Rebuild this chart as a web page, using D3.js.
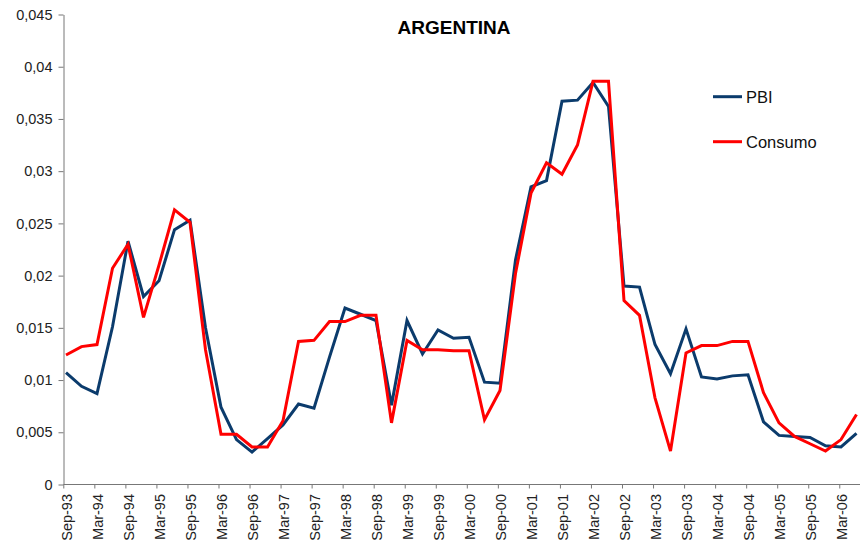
<!DOCTYPE html>
<html>
<head>
<meta charset="utf-8">
<script src="https://cdn.jsdelivr.net/npm/d3@7/dist/d3.min.js"></script>
<style>
  html, body { margin: 0; padding: 0; background: #fff; }
  svg { display: block; font-family: "Liberation Sans", Arial, sans-serif; }
</style>
</head>
<body>
<svg id="chart" width="863" height="543"></svg>
<script>
// Quarterly categories
const quarters = [
  "Sep-93","Dec-93","Mar-94","Jun-94","Sep-94","Dec-94","Mar-95","Jun-95",
  "Sep-95","Dec-95","Mar-96","Jun-96","Sep-96","Dec-96","Mar-97","Jun-97",
  "Sep-97","Dec-97","Mar-98","Jun-98","Sep-98","Dec-98","Mar-99","Jun-99",
  "Sep-99","Dec-99","Mar-00","Jun-00","Sep-00","Dec-00","Mar-01","Jun-01",
  "Sep-01","Dec-01","Mar-02","Jun-02","Sep-02","Dec-02","Mar-03","Jun-03",
  "Sep-03","Dec-03","Mar-04","Jun-04","Sep-04","Dec-04","Mar-05","Jun-05",
  "Sep-05","Dec-05","Mar-06","Jun-06"
];

// Series values
const pbi = [
  0.0107,0.0094,0.0087,0.0151,0.0233,0.0180,0.0195,0.0244,0.0253,0.0150,
  0.0074,0.0043,0.0031,0.0044,0.0057,0.0077,0.0073,0.0122,0.0169,0.0163,
  0.0157,0.0076,0.0157,0.0125,0.0148,0.0140,0.0141,0.0098,0.0097,0.0215,
  0.0285,0.0291,0.0367,0.0368,0.0385,0.0362,0.0190,0.0189,0.0134,0.0106,
  0.0149,0.0103,0.0101,0.0104,0.0105,0.0060,0.0047,0.0046,0.0045,0.0037,
  0.0036,0.0049
];
const consumo = [
  0.0124,0.0132,0.0134,0.0207,0.0230,0.0160,0.0210,0.0263,0.0251,0.0129,
  0.0048,0.0048,0.0036,0.0036,0.0061,0.0137,0.0138,0.0156,0.0156,0.0162,
  0.0162,0.0059,0.0138,0.0129,0.0129,0.0128,0.0128,0.0062,0.0090,0.0202,
  0.0279,0.0308,0.0297,0.0325,0.0386,0.0386,0.0176,0.0162,0.0083,0.0032,
  0.0126,0.0133,0.0133,0.0137,0.0137,0.0088,0.0059,0.0046,0.0039,0.0032,
  0.0043,0.0067
];

// Axis ticks
const yTicks = [0, 0.005, 0.01, 0.015, 0.02, 0.025, 0.03, 0.035, 0.04, 0.045];
const yTickLabels = ["0","0,005","0,01","0,015","0,02","0,025","0,03","0,035","0,04","0,045"];
const xTickLabels = quarters.filter((d, i) => i % 2 === 0);

const seriesNames = ["PBI", "Consumo"];
const seriesColors = ["#0b3b6c", "#ff0000"];

const svg = d3.select("#chart");
const plot = { left: 63.5, right: 860, top: 14.5, bottom: 484.5 };
const axisColor = "#777";

const x = d3.scalePoint().domain(quarters).range([66, 856.5]);
const xTick = d3.scalePoint().domain(quarters).range([63.3, 854.8]);
const y = d3.scaleLinear().domain([0, 0.045]).range([plot.bottom, plot.top]);

// Y axis
const yAxis = svg.append("g")
  .attr("transform", `translate(${plot.left},0)`)
  .call(d3.axisLeft(y).tickValues(yTicks)
    .tickFormat((d, i) => yTickLabels[i]).tickSize(5).tickPadding(6).tickSizeOuter(0));
yAxis.select(".domain").attr("stroke", axisColor);
yAxis.selectAll(".tick line").attr("stroke", axisColor);
yAxis.selectAll(".tick text")
  .attr("fill", "#222").style("font-size", "14.5px");

// X axis: tick marks
const xAxisTicks = svg.append("g")
  .attr("transform", `translate(0,${plot.bottom})`)
  .call(d3.axisBottom(xTick).tickValues(xTickLabels).tickSize(4).tickFormat(""));
xAxisTicks.select(".domain").remove();
xAxisTicks.selectAll(".tick line").attr("stroke", axisColor);
svg.append("line")
  .attr("x1", plot.left).attr("x2", plot.right)
  .attr("y1", y(0)).attr("y2", y(0))
  .attr("stroke", axisColor);

// X axis: rotated labels
const xAxisLabels = svg.append("g")
  .attr("transform", `translate(0,${plot.bottom})`)
  .call(d3.axisBottom(x).tickValues(xTickLabels).tickSize(0));
xAxisLabels.select(".domain").remove();
xAxisLabels.selectAll(".tick text")
  .attr("transform", "rotate(-90)")
  .attr("x", -9.5).attr("y", 0).attr("dy", "0.35em")
  .style("text-anchor", "end")
  .style("font-size", "14.5px")
  .attr("fill", "#222");

// Lines
const line = d3.line()
  .x((d, i) => x(quarters[i]))
  .y(d => y(d));

[pbi, consumo].forEach((s, k) => {
  svg.append("path")
    .datum(s)
    .attr("d", line)
    .attr("fill", "none")
    .attr("stroke", seriesColors[k])
    .attr("stroke-width", 3)
    .attr("stroke-linejoin", "miter");
});

// Title
svg.append("text")
  .attr("x", 454).attr("y", 34)
  .attr("text-anchor", "middle")
  .style("font-size", "19px").style("font-weight", "bold")
  .text("ARGENTINA");

// Legend
const legend = svg.append("g");
seriesNames.forEach((name, k) => {
  const ly = 96.7 + k * 45;
  legend.append("line")
    .attr("x1", 713).attr("x2", 742)
    .attr("y1", ly).attr("y2", ly)
    .attr("stroke", seriesColors[k]).attr("stroke-width", 3);
  legend.append("text")
    .attr("x", 746).attr("y", ly + 5.8)
    .style("font-size", "16.5px")
    .attr("fill", "#111")
    .text(name);
});
</script>
</body>
</html>
